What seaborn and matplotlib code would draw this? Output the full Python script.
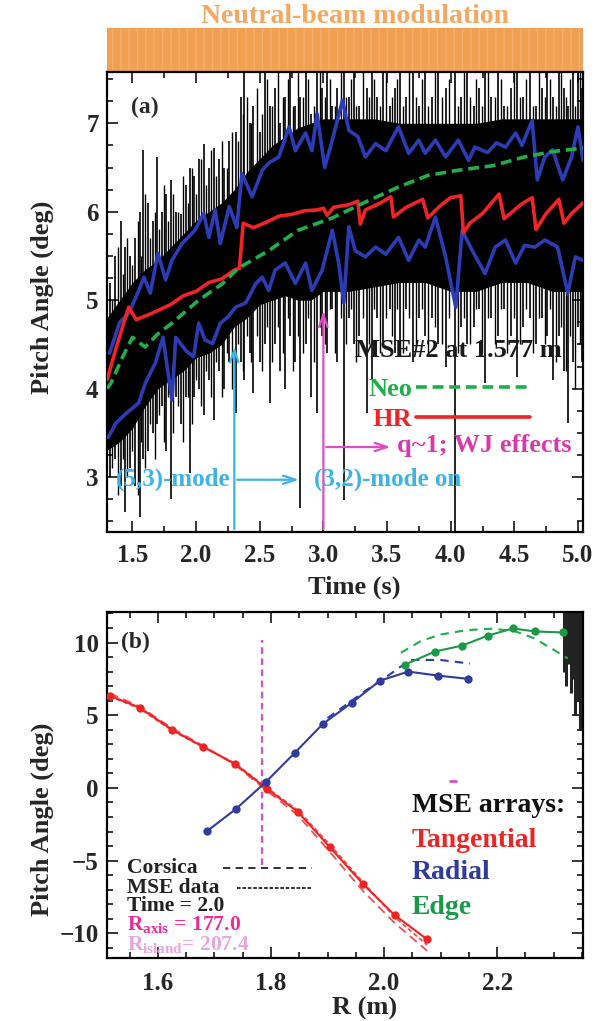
import numpy as np
import pandas as pd
import matplotlib
matplotlib.use("Agg")
import matplotlib.pyplot as plt
import seaborn as sns
from matplotlib.ticker import MultipleLocator, FixedLocator
from matplotlib.lines import Line2D

# ---------------- panel (a): MSE#2 pitch angle vs time ----------------
neo_t = [1.30, 1.33, 1.42, 1.50, 1.60, 1.70, 1.81, 2.02, 2.21, 2.33, 2.57, 2.80,
         3.07, 3.33, 3.59, 3.82, 4.06, 4.33, 4.58, 4.80, 5.04]
neo_v = [4.00, 4.06, 4.35, 4.58, 4.47, 4.62, 4.74, 5.00, 5.19, 5.36, 5.56, 5.79,
         5.93, 6.11, 6.28, 6.41, 6.47, 6.52, 6.62, 6.68, 6.72]

hr_t = [1.30, 1.38, 1.47, 1.53, 1.65, 1.80, 1.90, 2.00, 2.10, 2.20, 2.30, 2.34,
        2.37, 2.45, 2.55, 2.65, 2.75, 2.85, 2.95, 3.00, 3.03, 3.08, 3.20, 3.27,
        3.29, 3.33, 3.45, 3.53, 3.55, 3.65, 3.78, 3.82, 3.92, 4.00, 4.08, 4.10,
        4.15, 4.25, 4.38, 4.42, 4.55, 4.64, 4.67, 4.75, 4.85, 4.89, 4.95, 5.04]
hr_v = [4.10, 4.50, 4.92, 4.78, 4.85, 4.95, 5.05, 5.10, 5.20, 5.24, 5.34, 5.36,
        5.87, 5.82, 5.88, 5.95, 5.97, 6.01, 6.02, 6.04, 5.96, 6.05, 6.08, 6.12,
        5.86, 6.02, 6.10, 6.17, 5.94, 6.05, 6.14, 5.93, 6.07, 6.16, 6.18, 5.76,
        5.87, 5.98, 6.20, 5.92, 6.08, 6.16, 5.80, 5.98, 6.14, 5.87, 5.98, 6.10]

blue_up_t = [1.32, 1.40, 1.47, 1.55, 1.59, 1.64, 1.70, 1.76, 1.81, 1.89, 1.99, 2.06,
             2.10, 2.15, 2.19, 2.26, 2.32, 2.36, 2.44, 2.52, 2.57, 2.65, 2.73, 2.78,
             2.86, 2.91, 2.95, 3.01, 3.07, 3.15, 3.20, 3.27, 3.33, 3.41, 3.49, 3.59,
             3.67, 3.75, 3.80, 3.88, 3.96, 4.06, 4.14, 4.19, 4.29, 4.36, 4.43, 4.51,
             4.56, 4.64, 4.68, 4.74, 4.80, 4.88, 4.95, 5.00, 5.04]
blue_up_v = [4.40, 4.75, 4.85, 5.11, 5.26, 5.08, 5.53, 5.23, 5.45, 5.64, 5.79, 5.98,
             5.71, 6.02, 5.64, 6.06, 5.82, 6.43, 6.17, 6.47, 6.55, 6.62, 6.96, 6.69,
             6.89, 6.69, 7.11, 6.50, 6.81, 7.26, 6.92, 6.85, 6.62, 6.77, 6.69, 6.96,
             6.66, 6.81, 6.66, 6.81, 6.62, 6.81, 6.58, 6.73, 6.67, 6.78, 6.73, 6.89,
             6.75, 7.03, 6.36, 6.62, 6.70, 6.36, 6.62, 6.96, 6.58]

blue_lo_t = [1.31, 1.37, 1.45, 1.55, 1.60, 1.68, 1.74, 1.81, 1.84, 1.92, 1.98, 2.02,
             2.07, 2.13, 2.19, 2.25, 2.31, 2.39, 2.47, 2.52, 2.57, 2.62, 2.70, 2.78,
             2.86, 2.91, 2.99, 3.07, 3.12, 3.16, 3.20, 3.25, 3.33, 3.41, 3.49, 3.59,
             3.67, 3.75, 3.80, 3.88, 3.96, 4.04, 4.09, 4.17, 4.27, 4.35, 4.43, 4.51,
             4.58, 4.66, 4.74, 4.84, 4.92, 4.98, 5.04]
blue_lo_v = [3.45, 3.61, 3.72, 3.84, 4.06, 4.29, 4.58, 3.87, 4.58, 4.43, 4.36, 4.74,
             4.55, 4.51, 4.74, 4.81, 4.92, 4.97, 5.19, 5.26, 5.11, 5.34, 5.42, 5.19,
             5.42, 5.11, 5.34, 5.79, 5.42, 4.97, 5.83, 5.56, 5.49, 5.60, 5.52, 5.71,
             5.45, 5.68, 5.60, 5.94, 5.49, 4.92, 5.79, 5.56, 5.30, 5.60, 5.68, 5.42,
             5.62, 5.60, 5.68, 5.60, 5.08, 5.49, 5.45]

# raw MSE signal: dense core band and individual excursions (spikes)
core_t = [1.30, 1.40, 1.50, 1.60, 1.70, 1.80, 1.90, 2.00, 2.10, 2.20, 2.30, 2.40,
          2.50, 2.60, 2.70, 2.80, 2.90, 3.00, 3.20, 3.40, 3.60, 3.80, 4.00, 4.20,
          4.40, 4.60, 4.80, 5.04]
core_lo = [3.30, 3.40, 3.55, 3.80, 4.00, 4.10, 4.20, 4.35, 4.40, 4.50, 4.70, 4.80,
           4.95, 5.00, 5.05, 5.00, 5.00, 5.10, 5.10, 5.15, 5.20, 5.20, 5.10, 5.10,
           5.20, 5.20, 5.10, 5.10]
core_hi = [4.80, 5.00, 5.20, 5.35, 5.45, 5.60, 5.75, 5.90, 6.00, 6.10, 6.25, 6.45,
           6.60, 6.75, 6.85, 6.95, 7.00, 7.05, 7.05, 7.05, 7.00, 7.00, 7.00, 7.00,
           7.05, 7.05, 7.05, 7.05]

spike_t = [1.32, 1.36, 1.41, 1.44, 1.48, 1.52, 1.56, 1.58, 1.62, 1.66, 1.69, 1.73,
           1.76, 1.80, 1.84, 1.88, 1.92, 1.95, 1.98, 2.02, 2.06, 2.10, 2.14, 2.18,
           2.22, 2.26, 2.31, 2.35, 2.38, 2.42, 2.45, 2.50, 2.54, 2.58, 2.62, 2.66,
           2.70, 2.74, 2.78, 2.82, 2.86, 2.90, 2.95, 2.99, 3.03, 3.07, 3.11, 3.16,
           3.20, 3.24, 3.28, 3.34, 3.38, 3.42, 3.47, 3.52, 3.56, 3.60, 3.65, 3.70,
           3.75, 3.80, 3.85, 3.90, 3.96, 4.03, 4.08, 4.13, 4.18, 4.22, 4.27, 4.32,
           4.37, 4.42, 4.47, 4.52, 4.57, 4.62, 4.67, 4.72, 4.76, 4.80, 4.85, 4.89,
           4.92, 4.96, 5.00, 5.03]
spike_lo = [3.00, 3.20, 2.90, 2.60, 3.10, 2.90, 2.55, 3.20, 3.30, 3.50, 3.60, 3.80,
            3.30, 2.75, 3.90, 3.60, 3.90, 3.05, 3.90, 4.00, 3.70, 4.10, 3.64, 4.20,
            4.00, 4.30, 3.72, 4.30, 4.10, 4.40, 3.95, 4.30, 4.50, 3.84, 4.50, 4.20,
            4.00, 4.60, 4.30, 2.65, 4.50, 3.90, 3.72, 4.60, 4.40, 4.90, 4.30, 2.74,
            4.80, 4.50, 4.60, 3.72, 4.10, 4.80, 4.50, 4.90, 4.40, 4.50, 4.90, 4.30,
            4.80, 4.60, 4.80, 4.50, 4.24, 2.38, 4.70, 4.50, 4.70, 4.90, 4.06, 4.80,
            4.60, 4.90, 4.60, 4.13, 4.70, 4.80, 4.50, 4.80, 4.60, 4.10, 4.60, 4.20,
            3.61, 4.30, 4.70, 4.30]
spike_hi = [5.20, 5.50, 5.90, 5.60, 5.50, 5.70, 6.00, 6.70, 6.10, 5.90, 6.62, 6.00,
            6.20, 6.36, 6.00, 5.98, 6.30, 6.50, 6.40, 6.60, 6.77, 6.50, 6.72, 6.60,
            6.50, 6.80, 6.90, 7.30, 7.58, 7.00, 7.20, 6.90, 7.58, 7.20, 7.40, 7.00,
            7.30, 7.58, 7.20, 7.30, 7.58, 7.10, 7.58, 7.40, 7.58, 7.20, 7.40, 7.58,
            7.30, 7.58, 7.20, 7.40, 7.58, 7.30, 7.58, 7.20, 7.40, 7.58, 7.30, 7.58,
            7.20, 7.58, 7.30, 7.58, 7.40, 7.58, 7.30, 7.58, 7.20, 7.40, 7.58, 7.30,
            7.58, 7.20, 7.40, 7.58, 7.30, 7.58, 7.20, 7.40, 7.58, 7.30, 7.58, 7.40,
            7.20, 7.58, 7.58, 7.40]

spike2_t = [1.34, 1.385, 1.425, 1.46, 1.50, 1.54, 1.57, 1.60, 1.64, 1.675, 1.71, 1.745,
            1.78, 1.82, 1.86, 1.90, 1.935, 1.965, 2.00, 2.04, 2.08, 2.12, 2.16, 2.20,
            2.24, 2.285, 2.33, 2.365, 2.40, 2.435, 2.475, 2.52, 2.56, 2.60, 2.64, 2.68,
            2.72, 2.76, 2.80, 2.84, 2.88, 2.925, 2.97, 3.01, 3.05, 3.09, 3.135, 3.18,
            3.22, 3.26, 3.31, 3.36, 3.40, 3.445, 3.495, 3.54, 3.58, 3.625, 3.675, 3.725,
            3.775, 3.825, 3.875, 3.93, 3.99, 4.055, 4.105, 4.155, 4.20, 4.245, 4.295, 4.345,
            4.395, 4.445, 4.495, 4.545, 4.595, 4.645, 4.695, 4.74, 4.78, 4.825, 4.87, 4.905,
            4.94, 4.98, 5.015]
spike2_lo = [3.1, 2.8, 3.2, 3.0, 3.3, 2.8, 3.4, 3.1, 3.6, 3.2, 3.7, 3.4,
             3.9, 3.5, 3.8, 3.4, 3.9, 3.6, 4.1, 3.8, 4.2, 3.9, 4.3, 3.9,
             4.4, 4.0, 4.5, 4.2, 4.6, 4.3, 4.6, 4.2, 4.7, 4.3, 4.7, 4.4,
             4.8, 4.2, 4.6, 4.4, 4.8, 4.3, 4.7, 4.5, 4.9, 4.4, 4.8, 4.5,
             4.9, 4.3, 4.8, 4.5, 4.9, 4.4, 4.8, 4.6, 4.9, 4.4, 4.8, 4.5,
             4.9, 4.4, 4.7, 4.5, 4.8, 4.4, 4.8, 4.5, 4.9, 4.4, 4.8, 4.5,
             4.9, 4.4, 4.8, 4.5, 4.9, 4.4, 4.8, 4.5, 4.9, 4.3, 4.7, 4.2,
             4.6, 4.0, 4.5]
spike2_hi = [5.0, 5.6, 5.3, 5.7, 5.4, 5.9, 5.5, 6.2, 5.7, 6.0, 5.8, 6.3,
             5.9, 6.2, 6.0, 6.4, 6.1, 6.5, 6.2, 6.6, 6.3, 6.7, 6.4, 6.8,
             6.5, 6.9, 6.8, 7.1, 7.3, 7.0, 7.4, 7.1, 7.5, 7.2, 7.58, 7.3,
             7.5, 7.2, 7.58, 7.3, 7.5, 7.2, 7.58, 7.3, 7.5, 7.2, 7.58, 7.3,
             7.5, 7.2, 7.58, 7.3, 7.5, 7.2, 7.58, 7.3, 7.5, 7.2, 7.58, 7.3,
             7.5, 7.2, 7.58, 7.3, 7.5, 7.2, 7.58, 7.3, 7.5, 7.2, 7.58, 7.3,
             7.5, 7.2, 7.58, 7.3, 7.5, 7.2, 7.58, 7.3, 7.5, 7.2, 7.58, 7.3,
             7.5, 7.2, 7.58]

a_xticks = [1.5, 2.0, 2.5, 3.0, 3.5, 4.0, 4.5, 5.0]
a_yticks = [3, 4, 5, 6, 7]
t_53mode, v_53tip = 2.30, 4.51
t_32mode = 2.83
t_q1, v_q1tip = 3.00, 4.91
t_wj = 3.55

# ---------------- panel (b): pitch angle profile vs R ----------------
tan_R = [1.515, 1.568, 1.625, 1.680, 1.736, 1.793, 1.848, 1.904, 1.963, 2.019, 2.076]
tan_y = [6.34, 5.52, 4.00, 2.83, 1.66, -0.07, -1.66, -4.07, -6.62, -8.76, -10.41]
tan_corsica = [6.50, 5.60, 4.10, 2.90, 1.60, -0.20, -1.90, -4.40, -7.10, -9.30, -11.20]
tan_model2 = [6.30, 5.45, 3.95, 2.80, 1.70, 0.00, -1.55, -3.90, -6.50, -8.90, -10.80]

rad_R = [1.687, 1.738, 1.791, 1.842, 1.892, 1.943, 1.993, 2.043, 2.096, 2.149]
rad_y = [-2.97, -1.45, 0.41, 2.41, 4.41, 5.86, 7.38, 8.00, 7.72, 7.50]
rad_model_R = [1.900, 1.970, 2.010, 2.046, 2.100, 2.152]
rad_model_y = [4.80, 6.76, 7.80, 8.80, 8.80, 8.55]

edge_R = [2.037, 2.090, 2.138, 2.184, 2.228, 2.267, 2.317]
edge_y = [8.48, 9.38, 9.79, 10.48, 10.97, 10.76, 10.69]
edge_model_R = [2.030, 2.065, 2.100, 2.146, 2.190, 2.230, 2.265, 2.300, 2.325]
edge_model_y = [9.30, 10.10, 10.55, 10.85, 10.95, 10.80, 10.30, 9.50, 8.90]

edge_raw_R = [2.318, 2.322, 2.326, 2.330, 2.334, 2.338, 2.342, 2.346]
edge_raw_lo = [8.0, 7.0, 8.5, 6.5, 7.5, 5.0, 6.0, 4.0]
edge_raw_hi = [12.1, 12.1, 12.1, 12.1, 12.1, 12.1, 12.1, 12.1]

R_axis_line = 1.785
R_axis_lo, R_axis_hi = -5.3, 10.2
b_xticks = [1.6, 1.8, 2.0, 2.2]
b_yticks = [-10, -5, 0, 5, 10]

# ---------------- style ----------------
sns.set_style("ticks")
plt.rcParams['font.family'] = ['Liberation Serif', 'DejaVu Serif']
plt.rcParams['font.weight'] = 'bold'
plt.rcParams['axes.labelweight'] = 'bold'
plt.rcParams['mathtext.fontset'] = 'custom'
plt.rcParams['mathtext.rm'] = 'Liberation Serif:bold'
plt.rcParams['mathtext.bf'] = 'Liberation Serif:bold'
plt.rcParams['axes.unicode_minus'] = True
plt.rcParams['hatch.linewidth'] = 1.0
plt.rcParams['hatch.color'] = '#f4b070'

BLUE = '#2b3cb4'
RED = '#f02424'
GREEN = '#1fae4a'
MAG = '#e04cc4'
CYAN = '#3cb4e6'
ORANGE = '#f0a050'

fig = plt.figure(figsize=(6.08, 10.21), dpi=100)
ax_s = fig.add_axes([0.176, 0.9295, 0.783, 0.0431])
ax_a = fig.add_axes([0.176, 0.479, 0.783, 0.4505])
ax_b = fig.add_axes([0.176, 0.0617, 0.783, 0.3389])

# ---- beam modulation strip ----
ax_s.set_xlim(1.30, 5.04)
ax_s.set_ylim(0, 1)
ax_s.axvspan(1.30, 5.04, facecolor=ORANGE, edgecolor='#f4b070', hatch='||', lw=0)
ax_s.set_xticks([])
ax_s.set_yticks([])
for sp in ax_s.spines.values():
    sp.set_visible(False)
fig.text(0.584, 0.984, 'Neutral-beam modulation', color='#f4a862', fontsize=20,
         fontweight='bold', ha='center', va='center')

# ---- panel (a) ----
ax = ax_a
ax.fill_between(core_t, core_lo, core_hi, color='black', lw=0, zorder=1)
ax.vlines(spike_t, spike_lo, spike_hi, color='black', lw=1.2, zorder=1)
ax.vlines(spike2_t, spike2_lo, spike2_hi, color='black', lw=1.0, zorder=1)

sns.lineplot(x=blue_up_t, y=blue_up_v, ax=ax, color=BLUE, lw=2.6, estimator=None, sort=False, zorder=3)
sns.lineplot(x=blue_lo_t, y=blue_lo_v, ax=ax, color=BLUE, lw=2.6, estimator=None, sort=False, zorder=3)
sns.lineplot(x=hr_t, y=hr_v, ax=ax, color=RED, lw=2.6, estimator=None, sort=False, zorder=4)
sns.lineplot(x=neo_t, y=neo_v, ax=ax, color=GREEN, lw=2.6, estimator=None, sort=False,
             linestyle=(0, (3, 1.6)), zorder=5)

ax.set_xlim(1.30, 5.04)
ax.set_ylim(2.38, 7.58)
ax.xaxis.set_major_locator(FixedLocator(a_xticks))
ax.set_xticklabels([f'{v:.1f}' for v in a_xticks])
ax.yaxis.set_major_locator(FixedLocator(a_yticks))
ax.xaxis.set_minor_locator(MultipleLocator(0.25))
ax.yaxis.set_minor_locator(MultipleLocator(0.25))

arrow_kw = '->,head_length=0.9,head_width=0.3'
ax.annotate('', xy=(t_53mode, v_53tip), xytext=(t_53mode, 2.38),
            arrowprops=dict(arrowstyle=arrow_kw, color=CYAN, lw=1.6), zorder=6)
ax.annotate('', xy=(t_32mode, 2.97), xytext=(t_53mode, 2.97),
            arrowprops=dict(arrowstyle=arrow_kw, color=CYAN, lw=1.6), zorder=6)
ax.text(2.27, 2.97, '(5,3)-mode', color=CYAN, fontsize=18, ha='right', va='center', zorder=7)
ax.text(2.93, 2.97, '(3,2)-mode on', color=CYAN, fontsize=18, ha='left', va='center', zorder=7)

ax.annotate('', xy=(t_q1, v_q1tip), xytext=(t_q1, 2.38),
            arrowprops=dict(arrowstyle=arrow_kw, color=MAG, lw=1.6), zorder=6)
ax.annotate('', xy=(t_wj, 3.34), xytext=(t_q1, 3.34),
            arrowprops=dict(arrowstyle=arrow_kw, color=MAG, lw=1.6), zorder=6)
ax.text(3.58, 3.36, 'q~1; WJ effects', color='#d83aaa', fontsize=19, ha='left', va='center', zorder=7)

ax.text(3.25, 4.43, 'MSE#2 at 1.577 m', color='#1a1a1a', fontsize=19, ha='left', va='center', zorder=7)
ax.text(1.60, 7.18, '(a)', color='#2a2a2a', fontsize=17, ha='center', va='center')

leg = ax.legend(handles=[Line2D([], [], color=GREEN, lw=2.6, linestyle=(0, (3, 1.6))),
                         Line2D([], [], color=RED, lw=2.6)],
                labels=['Neo', 'HR'], markerfirst=False, frameon=False,
                loc='upper left', bbox_to_anchor=(0.549, 0.336), borderpad=0, borderaxespad=0,
                handlelength=4.3, handletextpad=0.15, labelspacing=0.27, fontsize=19,
                labelcolor=[GREEN, RED])

ax.set_xlabel('Time (s)', fontsize=19)
ax.set_ylabel('Pitch Angle (deg)', fontsize=19)
ax.yaxis.set_label_coords(-0.111, 0.51)
ax.xaxis.set_label_coords(0.52, -0.095)

# ---- panel (b) ----
ax = ax_b
ax.vlines([R_axis_line], [R_axis_lo], [R_axis_hi], color=MAG, lw=1.6, linestyles=(0, (3, 2)), zorder=1)
ax.vlines(edge_raw_R, edge_raw_lo, edge_raw_hi, color='#222222', lw=2.2, zorder=1)

sns.lineplot(x=tan_R, y=tan_corsica, ax=ax, color=RED, lw=1.3, estimator=None, sort=False,
             linestyle=(0, (5, 3)), alpha=0.8, zorder=2)
sns.lineplot(x=tan_R, y=tan_model2, ax=ax, color=RED, lw=1.3, estimator=None, sort=False,
             linestyle=(0, (2.5, 1.5)), alpha=0.8, zorder=2)
sns.lineplot(x=rad_model_R, y=rad_model_y, ax=ax, color=BLUE, lw=1.5, estimator=None, sort=False,
             linestyle=(0, (4, 3)), zorder=2)
sns.lineplot(x=edge_model_R, y=edge_model_y, ax=ax, color=GREEN, lw=1.5, estimator=None, sort=False,
             linestyle=(0, (4, 3)), zorder=2)

sns.lineplot(x=tan_R, y=tan_y, ax=ax, color=RED, lw=1.5, marker='o', markersize=6,
             markeredgewidth=0, estimator=None, sort=False, zorder=3)
sns.lineplot(x=rad_R, y=rad_y, ax=ax, color='#2f3c9c', lw=1.5, marker='o', markersize=6,
             markeredgewidth=0, estimator=None, sort=False, zorder=3)
sns.lineplot(x=edge_R, y=edge_y, ax=ax, color='#1a9a48', lw=1.5, marker='o', markersize=6,
             markeredgewidth=0, estimator=None, sort=False, zorder=3)

ax.set_xlim(1.51, 2.352)
ax.set_ylim(-11.7, 12.1)
ax.xaxis.set_major_locator(FixedLocator(b_xticks))
ax.set_xticklabels([f'{v:.1f}' for v in b_xticks])
ax.yaxis.set_major_locator(FixedLocator(b_yticks))
ax.xaxis.set_minor_locator(MultipleLocator(0.05))
ax.yaxis.set_minor_locator(MultipleLocator(1))

ax.text(1.56, 10.0, '(b)', color='#2a2a2a', fontsize=17, ha='center', va='center')

# legend block (left)
tx = 0.042
ax.text(tx, 0.260, 'Corsica', transform=ax.transAxes, fontsize=15.5, color='#222222', va='center')
ax.plot([0.244, 0.43], [0.260, 0.260], transform=ax.transAxes, color='#222222', lw=1.3,
        linestyle=(0, (4, 3)))
ax.text(tx, 0.202, 'MSE data', transform=ax.transAxes, fontsize=15.5, color='#222222', va='center')
ax.plot([0.273, 0.43], [0.202, 0.202], transform=ax.transAxes, color='#222222', lw=1.3,
        linestyle=(0, (2, 1)))
ax.text(tx, 0.150, 'Time = 2.0', transform=ax.transAxes, fontsize=15.5, color='#222222', va='center')
ax.text(tx, 0.095, r'R$_{\rm axis}$ = 177.0', transform=ax.transAxes, fontsize=15.5, color='#ee2a9a',
        va='center')
ax.text(tx, 0.038, r'R$_{\rm island}$= 207.4', transform=ax.transAxes, fontsize=15.5, color='#e8a6e0',
        va='center')

# legend block (right)
ax.plot([2.122], [0.45], marker='_', color=MAG, markersize=6, mew=2)
ax.text(0.64, 0.442, 'MSE arrays:', transform=ax.transAxes, fontsize=20, color='#111111', va='center')
ax.text(0.64, 0.341, 'Tangential', transform=ax.transAxes, fontsize=20, color=RED, va='center')
ax.text(0.64, 0.246, 'Radial', transform=ax.transAxes, fontsize=20, color='#2f3c9c', va='center')
ax.text(0.64, 0.147, 'Edge', transform=ax.transAxes, fontsize=20, color='#1a9a48', va='center')

ax.set_xlabel('R (m)', fontsize=19)
ax.set_ylabel('Pitch Angle (deg)', fontsize=19)
ax.yaxis.set_label_coords(-0.111, 0.40)
ax.xaxis.set_label_coords(0.54, -0.112)

for ax, xpad in ((ax_a, 9), (ax_b, 10)):
    ax.tick_params(which='both', direction='in', top=True, right=True, width=1.3,
                   labelsize=18, pad=6)
    ax.tick_params(axis='x', which='both', pad=xpad)
    ax.tick_params(which='major', length=8)
    ax.tick_params(which='minor', length=4)
    for sp in ax.spines.values():
        sp.set_linewidth(1.6)
        sp.set_color('black')
        sp.set_visible(True)
    for lab in ax.get_xticklabels() + ax.get_yticklabels():
        lab.set_fontweight('bold')

fig.savefig('out.png', dpi=100)
